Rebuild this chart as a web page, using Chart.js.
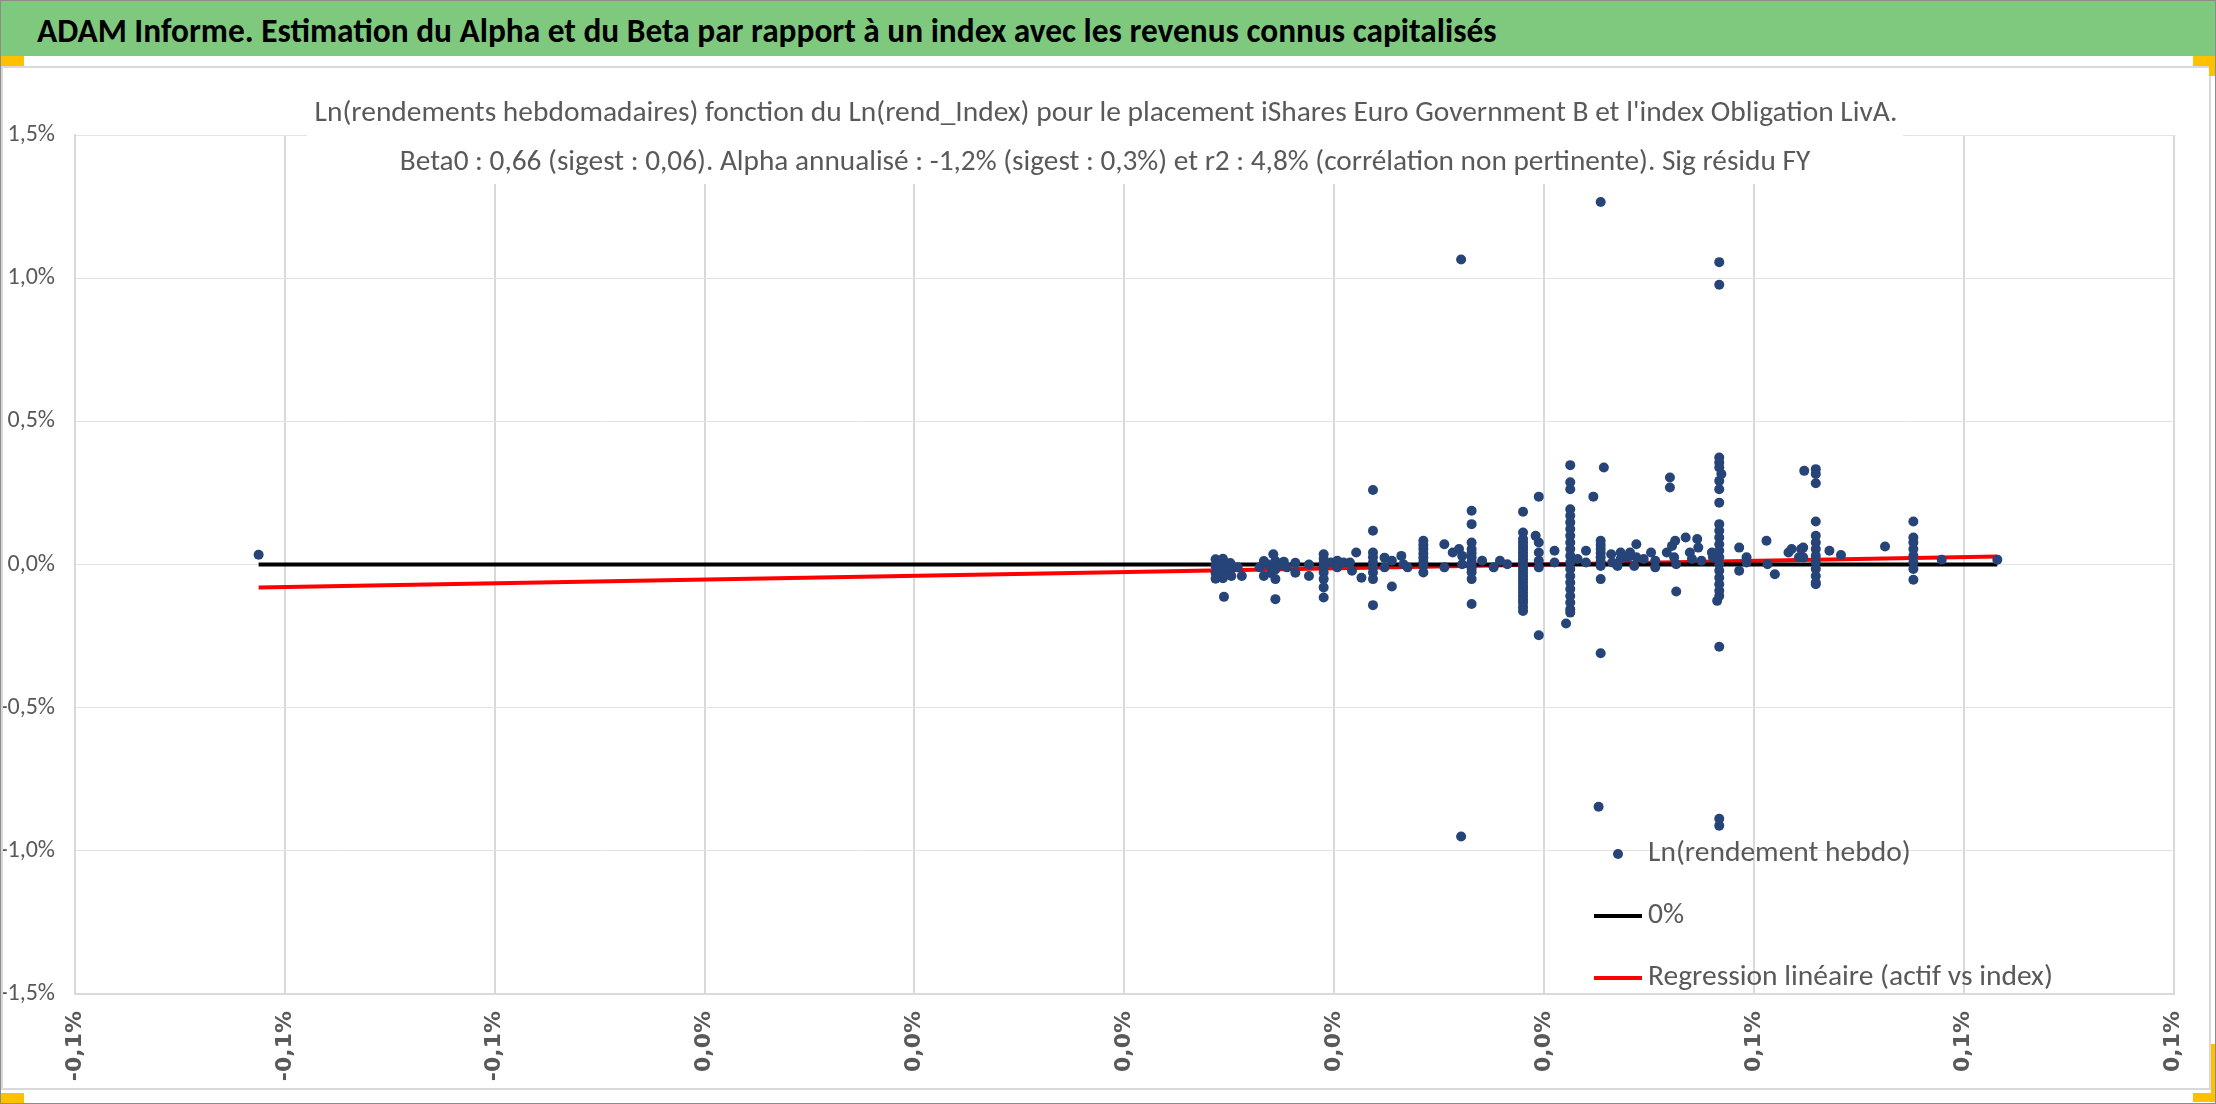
<!DOCTYPE html>
<html>
<head>
<meta charset="utf-8">
<script src="https://cdn.jsdelivr.net/npm/chart.js@4.4.1/dist/chart.umd.min.js"></script>
<style>
  html, body { margin: 0; padding: 0; background: #fff; }
  #page { position: relative; width: 2216px; height: 1104px; overflow: hidden; box-sizing: border-box; border: 1px solid #8c8c8c; }
  #head { position: absolute; left: 0; top: 0; width: 2216px; height: 55px; background: #7fc97f; z-index: 2; }
  #headText { position: absolute; left: 36px; top: 0; line-height: 60px; font-weight: bold; font-size: 36px; color: #000;
              font-family: Carlito, Calibri, "Liberation Sans Narrow", "Open Sans", sans-serif; white-space: nowrap; }
  #frame { position: absolute; left: 0; top: 65px; width: 2210px; height: 1024px; box-sizing: border-box; border: 2px solid #d9d9d9; z-index: 1; pointer-events: none; }
  canvas { position: absolute; left: 0; top: 0; }
  .h { position: absolute; background: #ffc000; z-index: 3; }
</style>
</head>
<body>
<div id="page">
  <div id="head"><span id="headText">ADAM Informe. Estimation du Alpha et du Beta par rapport à un index avec les revenus connus capitalisés</span></div>
  <div id="frame"></div>
  <canvas id="scatter" width="2216" height="1104"></canvas>
  <div class="h" style="left:0;top:55px;width:23px;height:10px"></div>
  <div class="h" style="left:2192px;top:55px;width:22px;height:10px"></div>
  <div class="h" style="left:2208px;top:55px;width:6px;height:20px"></div>
  <div class="h" style="left:0;top:1092px;width:23px;height:10px"></div>
  <div class="h" style="left:2192px;top:1092px;width:22px;height:9px"></div>
  <div class="h" style="left:2210px;top:1043px;width:4px;height:58px"></div>
</div>
<script>
const FONT = 'Carlito, Calibri, "Liberation Sans Narrow", "Open Sans", sans-serif';

// weekly log returns of the index (x, in %) and of the fund (y, in %)
const indexReturns = [
  -0.0825,
  0.0087, 0.0087, 0.0087, 0.0087, 0.0090, 0.0094, 0.0094, 0.0094,
  0.0094, 0.0098, 0.0101, 0.0101, 0.0102, 0.0108, 0.0112, 0.0095,
  0.0129, 0.0133, 0.0133, 0.0137, 0.0140, 0.0142, 0.0144,
  0.0144, 0.0144, 0.0144, 0.0149, 0.0152, 0.0155,
  0.0163, 0.0163, 0.0176, 0.0176,
  0.0190, 0.0190, 0.0190, 0.0190, 0.0190, 0.0190, 0.0190, 0.0190,
  0.0197, 0.0203, 0.0203, 0.0209, 0.0215, 0.0217, 0.0221, 0.0226,
  0.0237, 0.0237, 0.0237, 0.0237, 0.0237, 0.0237, 0.0237, 0.0237, 0.0237,
  0.0248, 0.0248, 0.0255, 0.0255, 0.0264, 0.0266, 0.0270,
  0.0285, 0.0285, 0.0285, 0.0285, 0.0285, 0.0285, 0.0285, 0.0285,
  0.0305, 0.0305, 0.0313, 0.0319, 0.0321, 0.0321, 0.0322, 0.0322,
  0.0331, 0.0331, 0.0331, 0.0331, 0.0331, 0.0331, 0.0331, 0.0331, 0.0331, 0.0331, 0.0331, 0.0331,
  0.0341, 0.0352, 0.0358, 0.0365,
  0.0380, 0.0380, 0.0380, 0.0380, 0.0380, 0.0380, 0.0380, 0.0380, 0.0380, 0.0380, 0.0380, 0.0380,
  0.0380, 0.0380, 0.0380, 0.0380, 0.0380, 0.0380, 0.0380, 0.0380, 0.0380, 0.0380, 0.0380, 0.0380,
  0.0392, 0.0395, 0.0395, 0.0395, 0.0395, 0.0395, 0.0395, 0.0410, 0.0410,
  0.0425, 0.0425, 0.0425, 0.0425, 0.0425, 0.0425, 0.0425, 0.0425, 0.0425, 0.0425,
  0.0425, 0.0425, 0.0425, 0.0425, 0.0425, 0.0425, 0.0425, 0.0425, 0.0425, 0.0425,
  0.0421, 0.0432, 0.0440, 0.0440, 0.0447,
  0.0454, 0.0454, 0.0454, 0.0454, 0.0454, 0.0454, 0.0454, 0.0454, 0.0454, 0.0454,
  0.0452, 0.0457,
  0.0464, 0.0465, 0.0470, 0.0473, 0.0473, 0.0480, 0.0482, 0.0486,
  0.0488, 0.0488, 0.0495, 0.0502, 0.0506, 0.0506, 0.0517, 0.0520,
  0.0520, 0.0522, 0.0524, 0.0525, 0.0526, 0.0526, 0.0535, 0.0539,
  0.0541, 0.0546, 0.0547, 0.0550, 0.0560, 0.0561,
  0.0567, 0.0567, 0.0567, 0.0567, 0.0567, 0.0567, 0.0567, 0.0567, 0.0567, 0.0567, 0.0567, 0.0567,
  0.0567, 0.0567, 0.0567, 0.0567, 0.0567, 0.0567, 0.0567, 0.0567, 0.0567, 0.0567, 0.0567,
  0.0569, 0.0565, 0.0586, 0.0586, 0.0593, 0.0593,
  0.0612, 0.0613, 0.0620, 0.0633, 0.0636, 0.0643, 0.0645, 0.0647, 0.0647, 0.0648,
  0.0659, 0.0659, 0.0659, 0.0659, 0.0659, 0.0659, 0.0659, 0.0659, 0.0659, 0.0659, 0.0659, 0.0659, 0.0659,
  0.0672, 0.0683, 0.0725,
  0.0752, 0.0752, 0.0752, 0.0752, 0.0752, 0.0752, 0.0752, 0.0752,
  0.0779, 0.0832
];
const assetReturns = [
  0.034,
  0.018, -0.005, -0.030, -0.050, 0.010, 0.020, 0.000, -0.025,
  -0.048, -0.012, 0.005, -0.020, -0.040, -0.010, -0.040, -0.113,
  -0.010, 0.012, -0.040, 0.000, -0.030, 0.036, 0.012,
  -0.017, -0.051, -0.121, 0.000, 0.010, -0.010,
  0.006, -0.029, 0.000, -0.040,
  0.036, 0.020, 0.007, -0.010, -0.028, -0.051, -0.080, -0.115,
  0.007, 0.013, -0.010, 0.007, 0.007, -0.022, 0.042, -0.046,
  0.260, 0.118, 0.042, 0.025, 0.007, -0.010, -0.028, -0.051, -0.142,
  0.024, -0.010, 0.013, -0.077, 0.030, 0.001, -0.010,
  0.083, 0.068, 0.054, 0.038, 0.024, 0.008, -0.005, -0.028,
  0.071, -0.010, 0.042, 0.054, 1.065, -0.950, 0.030, 0.001,
  0.188, 0.141, 0.077, 0.054, 0.040, 0.025, 0.010, -0.004, -0.015, -0.027, -0.051, -0.138,
  0.013, -0.010, 0.013, 0.001,
  0.184, 0.112, 0.089, 0.077, 0.065, 0.054, 0.042, 0.030, 0.018, 0.007, -0.005, -0.016,
  -0.028, -0.040, -0.051, -0.063, -0.075, -0.086, -0.098, -0.110, -0.122, -0.133, -0.148, -0.162,
  0.100, 0.237, 0.077, 0.042, 0.013, -0.010, -0.247, 0.048, 0.007,
  0.347, 0.287, 0.263, 0.193, 0.170, 0.147, 0.124, 0.100, 0.077, 0.054,
  0.030, 0.007, -0.016, -0.040, -0.063, -0.086, -0.110, -0.133, -0.156, -0.168,
  -0.206, 0.019, 0.048, 0.007, 0.237,
  1.266, 0.083, 0.068, 0.054, 0.040, 0.025, 0.010, -0.005, -0.051, -0.310,
  -0.846, 0.339,
  0.036, 0.007, -0.005, 0.042, 0.019, 0.025, 0.042, -0.005,
  0.071, 0.025, 0.019, 0.042, 0.013, -0.010, 0.042, 0.304,
  0.269, 0.065, 0.025, 0.083, 0.001, -0.094, 0.094, 0.042,
  0.019, 0.089, 0.059, 0.013, 0.042, 0.025,
  1.056, 0.977, 0.374, 0.356, 0.339, 0.292, 0.263, 0.216, 0.141, 0.118, 0.094, 0.071,
  0.048, 0.025, 0.001, -0.022, -0.046, -0.069, -0.092, -0.110, -0.287, -0.888, -0.912,
  0.316, -0.127, 0.059, -0.022, 0.025, 0.007,
  0.083, 0.001, -0.034, 0.042, 0.054, 0.025, 0.054, 0.059, 0.025, 0.327,
  0.333, 0.316, 0.284, 0.150, 0.100, 0.077, 0.054, 0.030, 0.007, -0.016, -0.040, -0.063, -0.069,
  0.048, 0.033, 0.063,
  0.150, 0.094, 0.077, 0.054, 0.030, 0.007, -0.016, -0.053,
  0.017, 0.017
];

// 0% reference line and fitted regression (end points)
const lineX = [-0.0825, 0.0832];
const zeroY = [0, 0];
const regressionY = [-0.080, 0.028];

const xTickValues = [-0.1, -0.08, -0.06, -0.04, -0.02, 0, 0.02, 0.04, 0.06, 0.08, 0.1];
const xTickLabels = ['-0,1%', '-0,1%', '-0,1%', '0,0%', '0,0%', '0,0%', '0,0%', '0,0%', '0,1%', '0,1%', '0,1%'];
const yTickValues = [-1.5, -1.0, -0.5, 0, 0.5, 1.0, 1.5];
const yTickLabels = ['-1,5%', '-1,0%', '-0,5%', '0,0%', '0,5%', '1,0%', '1,5%'];

const seriesNames = ['Ln(rendement hebdo)', '0%', 'Regression linéaire (actif vs index)'];
const titleLines = [
  "Ln(rendements hebdomadaires) fonction du Ln(rend_Index) pour le placement iShares Euro Government B et l'index Obligation LivA.",
  'Beta0 : 0,66 (sigest : 0,06). Alpha annualisé : -1,2% (sigest : 0,3%) et r2 : 4,8% (corrélation non pertinente). Sig résidu FY'
];

// size the header text so it spans the same width as in the reference
(function () {
  const el = document.getElementById('headText');
  const w = el.getBoundingClientRect().width;
  el.style.fontSize = (36 * 1460 / w).toFixed(2) + 'px';
})();

// font size that makes text span targetW
function sizeFor(c, text, targetW, base, weight) {
  c.font = (weight || '') + ' ' + base + 'px ' + FONT;
  return base * targetW / c.measureText(text).width;
}

const titleBox = {
  id: 'titleBox',
  afterDraw(chart) {
    const c = chart.ctx;
    c.save();
    c.fillStyle = '#ffffff';
    c.fillRect(306, 84, 1596, 99);
    c.fillStyle = '#595959';
    c.textAlign = 'center';
    c.textBaseline = 'middle';
    c.font = sizeFor(c, titleLines[0], 1583, 30) + 'px ' + FONT;
    c.fillText(titleLines[0], 1105, 113);
    c.font = sizeFor(c, titleLines[1], 1411, 30) + 'px ' + FONT;
    c.fillText(titleLines[1], 1104, 162);
    c.restore();
  }
};

const legendBox = {
  id: 'legendBox',
  afterDraw(chart) {
    const c = chart.ctx;
    c.save();
    const fs = sizeFor(c, seriesNames[2], 405, 30);
    c.fillStyle = '#264478';
    c.beginPath();
    c.arc(1617, 853, 5, 0, Math.PI * 2);
    c.fill();
    c.lineWidth = 4;
    c.strokeStyle = '#000000';
    c.beginPath(); c.moveTo(1593, 915); c.lineTo(1641, 915); c.stroke();
    c.strokeStyle = '#ff0000';
    c.beginPath(); c.moveTo(1593, 977); c.lineTo(1641, 977); c.stroke();
    c.fillStyle = '#595959';
    c.textAlign = 'left';
    c.textBaseline = 'middle';
    c.font = fs + 'px ' + FONT;
    c.fillText(seriesNames[0], 1647, 853);
    c.fillText(seriesNames[1], 1647, 915);
    c.fillText(seriesNames[2], 1647, 977);
    c.restore();
  }
};

const points = indexReturns.map((x, i) => ({ x: x, y: assetReturns[i] }));
const zeroLine = lineX.map((x, i) => ({ x: x, y: zeroY[i] }));
const regLine = lineX.map((x, i) => ({ x: x, y: regressionY[i] }));

const ctx = document.getElementById('scatter').getContext('2d');

const scatter = new Chart(ctx, {
    type: 'scatter',
    data: {
        datasets: [{
            label: seriesNames[0],
            data: points,
            pointRadius: 5,
            pointBorderWidth: 0,
            backgroundColor: '#264478',
            borderColor: '#264478'
        }, {
            type: 'line',
            label: seriesNames[1],
            data: zeroLine,
            borderColor: '#000000',
            borderWidth: 4,
            pointRadius: 0,
            fill: false
        }, {
            type: 'line',
            label: seriesNames[2],
            data: regLine,
            borderColor: '#ff0000',
            borderWidth: 4,
            pointRadius: 0,
            fill: false
        }]
    },
    options: {
        responsive: false,
        animation: false,
        devicePixelRatio: 1,
        layout: { padding: { left: 0, top: 134, right: 21, bottom: 0 } },
        plugins: {
            legend: { display: false },
            tooltip: { enabled: false }
        },
        scales: {
            x: {
                type: 'linear',
                min: -0.1,
                max: 0.1,
                afterBuildTicks: s => { s.ticks = xTickValues.map(v => ({ value: v })); },
                afterFit: s => { s.height = 111; },
                ticks: {
                    autoSkip: false,
                    minRotation: 90,
                    maxRotation: 90,
                    padding: 17,
                    color: '#595959',
                    font: { family: '"DejaVu Sans"', weight: 'bold', size: 22 },
                    callback: (v, i) => xTickLabels[i]
                },
                grid: { color: '#d9d9d9', lineWidth: 2, drawTicks: false },
                border: { color: '#d9d9d9', width: 2 }
            },
            y: {
                min: -1.5,
                max: 1.5,
                afterBuildTicks: s => { s.ticks = yTickValues.map(v => ({ value: v })); },
                afterFit: s => { s.width = 74; },
                ticks: {
                    padding: 20,
                    color: '#595959',
                    font: { family: FONT, size: 24 },
                    callback: (v, i) => yTickLabels[i]
                },
                grid: { color: '#e3e3e3', lineWidth: 1, drawTicks: false },
                border: { color: '#d9d9d9', width: 2 }
            }
        }
    },
    plugins: [titleBox, legendBox]
});
</script>
</body>
</html>
